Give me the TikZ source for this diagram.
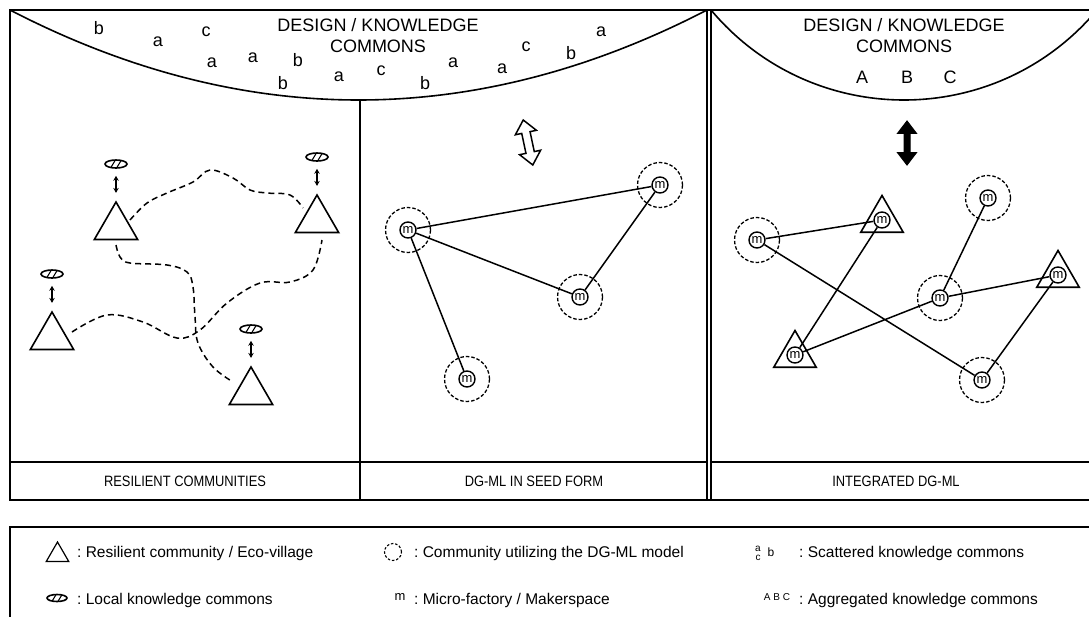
\documentclass[tikz,border=0pt]{standalone}
\usepackage{fontspec}
\setmainfont{Liberation Sans}
\newfontfamily\narrowsf{Liberation Sans}[FakeStretch=0.86]
\usetikzlibrary{arrows.meta,calc,shapes.geometric,shapes.arrows}

\tikzset{
  boxline/.style={line width=2pt},
  wall/.style={line width=1.6pt},
  village/.style={regular polygon, regular polygon sides=3, draw, line width=1.6pt,
    inner sep=0pt, minimum size=50pt},
  ring/.style={circle, draw, line width=1.3pt, dash pattern=on 3.5pt off 2pt,
    inner sep=0pt, minimum size=45pt},
  mf/.style={circle, draw, fill=white, line width=1.4pt, inner sep=0pt,
    minimum size=16pt, font=\fontsize{13}{13}\selectfont},
  kc/.style={ellipse, draw, line width=1.6pt, inner sep=0pt,
    minimum width=22pt, minimum height=8pt,
    path picture={\draw[line width=1.1pt]
      ([xshift=-6pt,yshift=-5pt]path picture bounding box.center) -- ++(6pt,10pt)
      ([xshift=0pt,yshift=-5pt]path picture bounding box.center) -- ++(6pt,10pt);}},
  link/.style={line width=1.5pt},
  trail/.style={line width=1.5pt, dash pattern=on 6pt off 4pt},
  updown/.style={{Stealth[length=5pt,width=5.5pt]}-{Stealth[length=5pt,width=5.5pt]},
    line width=1.3pt, shorten <=7pt, shorten >=7.5pt},
  heading/.style={align=center, font=\fontsize{18}{21}\selectfont},
  scat/.style={inner sep=0pt, font=\fontsize{18}{18}\selectfont},
  tag/.style={font=\narrowsf\fontsize{15}{15}\selectfont},
  keytext/.style={anchor=base west, inner sep=0pt, font=\fontsize{15.5}{18}\selectfont},
}

\begin{document}
\begin{tikzpicture}[x=1pt, y=-1pt]
  \useasboundingbox (0,0) rectangle (1089,616);

  %% frame, panels and the two commons
  \draw[boxline] (10,10) rectangle (1097,500);
  \draw[wall] (707,10) -- (707,500) (711,10) -- (711,500);
  \draw[wall] (10,462) -- (707,462) (711,462) -- (1097,462);
  \draw[wall] (10,10) .. controls (242,130) and (475,130) .. (707,10);
  \draw[wall] (711,10) .. controls (811.7,130) and (996.3,130) .. (1097,10);
  \draw[wall] (360,100) -- (360,500);

  \node[heading] (dk1) at (378,36) {DESIGN / KNOWLEDGE\\COMMONS};
  \node[heading] (dk2) at (904,36) {DESIGN / KNOWLEDGE\\COMMONS};
  \foreach \x/\y/\c [count=\i] in {99/28/b, 158/42/a, 206/32/c, 212/63/a, 253/58/a,
      298/60/b, 283/83/b, 339/77/a, 381/71/c, 425/83/b, 453/63/a, 502/69/a,
      526/47/c, 571/53/b, 601/32/a}
    \node[scat] (sc\i) at (\x,\y) {\c};
  \node[scat] (agA) at (862,77) {A};
  \node[scat] (agB) at (907,77) {B};
  \node[scat] (agC) at (950,77) {C};

  %% resilient communities
  \node[village] (rc1) at (116,227) {};
  \node[village] (rc2) at (317,220) {};
  \node[village] (rc3) at (52,337) {};
  \node[village] (rc4) at (251,392) {};
  \node[kc] (kc1) at (116,164) {};
  \node[kc] (kc2) at (317,157) {};
  \node[kc] (kc3) at (52,274) {};
  \node[kc] (kc4) at (251,329) {};
  \foreach \i in {1,...,4}
    \draw[updown] (kc\i) -- (rc\i);

  \draw[trail] plot[smooth, tension=0.6] coordinates {($(rc1)+(14,-7)$) (147,203) (167,193)
    (193,182) (210,170) (233,178) (250,190) (267,193) (290,195) ($(rc2)+(-14,-12)$)};
  \draw[trail] plot[smooth, tension=0.6] coordinates {($(rc1)+(0,18)$) (120,257) (130,263)
    (167,265) (187,272) (193,287) (195,317) (198,343) (213,367) ($(rc4)+(-18,-10)$)};
  \draw[trail] plot[smooth, tension=0.6] coordinates {($(rc3)+(20,-5)$) (107,315) (143,322)
    (177,338) (200,330) (227,303) (260,283) (290,282) (313,270) ($(rc2)+(5,20)$)};

  %% seed form
  \node[double arrow, draw, fill=white, line width=1.5pt, rotate=102,
    minimum height=46pt, minimum width=20pt, inner sep=3.5pt,
    double arrow head extend=6.5pt, double arrow tip angle=80] (seedflow) at (528,142.5) {};
  \node[ring] (r1) at (408,230) {};
  \node[ring] (r2) at (660,185) {};
  \node[ring] (r3) at (580,297) {};
  \node[ring] (r4) at (467,379) {};
  \foreach \i in {1,...,4}
    \node[mf] (s\i) at (r\i) {m};
  \draw[link] (s1) -- (s2) (s1) -- (s3) (s3) -- (s2) (s1) -- (s4);

  %% integrated
  \node[double arrow, draw, fill=black, line width=1pt, rotate=90,
    minimum height=44pt, minimum width=18pt, inner sep=2.5pt,
    double arrow head extend=6.5pt, double arrow tip angle=75] (bigflow) at (907,143) {};
  \node[ring] (q1) at (757,240) {};
  \node[ring] (q2) at (988,198) {};
  \node[ring] (q3) at (940,298) {};
  \node[ring] (q4) at (982,380) {};
  \node[village, minimum size=49pt] (v1) at (882,220) {};
  \node[village, minimum size=49pt] (v2) at (1058,275) {};
  \node[village, minimum size=49pt] (v3) at (795,355) {};
  \foreach \i in {1,...,4}
    \node[mf] (g\i) at (q\i) {m};
  \foreach \i in {1,...,3}
    \node[mf] (w\i) at (v\i) {m};
  \draw[link] (g1) -- (w1) (g1) -- (g4) (w1) -- (w3) (g2) -- (g3)
    (g3) -- (w2) (g3) -- (w3) (w2) -- (g4);

  \node[tag] (lab1) at (185,481.5) {RESILIENT COMMUNITIES};
  \node[tag] (lab2) at (534,481.5) {DG-ML IN SEED FORM};
  \node[tag] (lab3) at (896,481.5) {INTEGRATED DG-ML};

  %% legend
  \draw[boxline] (10,625) -- (10,527) -- (1097,527) -- (1097,625);
  \node[village, line width=1.2pt, minimum size=26pt] (lg1) at (57.5,555) {};
  \node[keytext] (lt1) at (77,557.5) {:\ Resilient community / Eco-village};
  \node[kc, minimum width=20pt, minimum height=7pt] (lg2) at (57,598) {};
  \node[keytext] (lt2) at (77,604) {:\ Local knowledge commons};
  \node[ring, line width=1.1pt, dash pattern=on 2.5pt off 1.8pt, minimum size=17pt] (lg3) at (393,552) {};
  \node[keytext] (lt3) at (414,557.5) {:\ Community utilizing the DG-ML model};
  \node[inner sep=0pt, font=\fontsize{13}{13}\selectfont] (lg4) at (400,597) {m};
  \node[keytext] (lt4) at (414,604) {:\ Micro-factory / Makerspace};
  \node[inner sep=0pt, font=\fontsize{10}{10}\selectfont] (lg5a) at (758,549) {a};
  \node[inner sep=0pt, font=\fontsize{10}{10}\selectfont] (lg5c) at (758,557.5) {c};
  \node[inner sep=0pt, font=\fontsize{12}{12}\selectfont] (lg5b) at (771,552) {b};
  \node[keytext] (lt5) at (799,557.5) {:\ Scattered knowledge commons};
  \node[inner sep=0pt, font=\fontsize{10}{10}\selectfont] (lg6) at (777,597.5) {A B C};
  \node[keytext] (lt6) at (799,604) {:\ Aggregated knowledge commons};
\end{tikzpicture}
\end{document}
